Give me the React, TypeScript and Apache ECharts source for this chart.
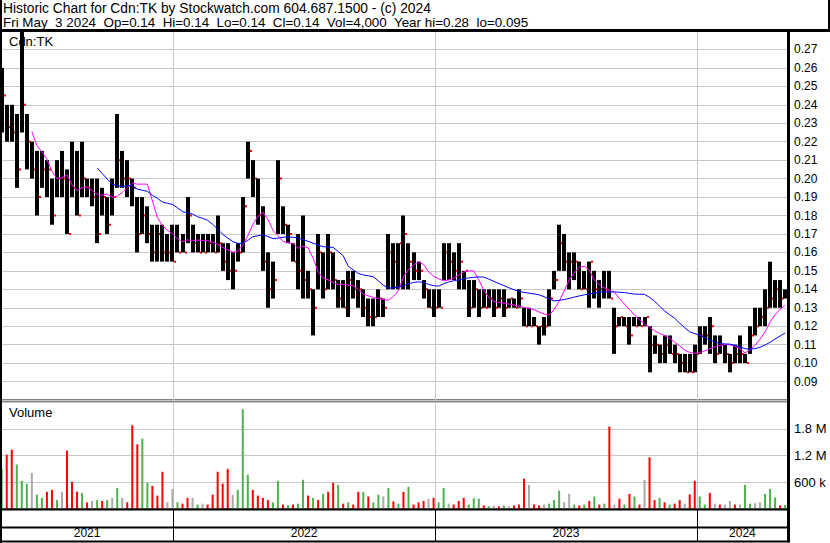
import React, { useEffect, useRef } from 'react';
import * as echarts from 'echarts';

// ---- header / labels ----
const titleLine = 'Historic Chart for Cdn:TK by Stockwatch.com 604.687.1500 - (c) 2024';
const infoLine = 'Fri May\u00a0 3 2024\u00a0 Op=0.14\u00a0 Hi=0.14\u00a0 Lo=0.14\u00a0 Cl=0.14\u00a0 Vol=4,000\u00a0 Year hi=0.28\u00a0 lo=0.095';
const symbolLabel = 'Cdn:TK';
const volumeLabel = 'Volume';

// ---- x axis (weekly points, Friday closes) ----
const DAY = 86400000;
const firstWeek = Date.UTC(2021, 4, 7);
const axisStart = Date.UTC(2021, 4, 6);
const axisEnd = Date.UTC(2024, 4, 7);
const yearStarts = [Date.UTC(2022, 0, 1), Date.UTC(2023, 0, 1), Date.UTC(2024, 0, 1)];
const yearLabels = ['2021', '2022', '2023', '2024'];

// ---- price axis ----
const priceMin = 0.08;
const priceMax = 0.28;
const priceStep = 0.01;

// ---- volume axis ----
const volumeMax = 2400000;
const volumeStep = 600000;
const volumeTickValues = [600000, 1200000, 1800000];
const volumeTickLabels = ['600 k', '1.2 M', '1.8 M'];

// ---- weekly price data ----
const highs = [
  0.26, 0.24, 0.24, 0.235, 0.28, 0.235, 0.22, 0.215, 0.215, 0.21,
  0.2, 0.21, 0.215, 0.205, 0.22, 0.215, 0.22, 0.2, 0.2, 0.2,
  0.195, 0.19, 0.2, 0.235, 0.215, 0.21, 0.2, 0.19, 0.19, 0.185,
  0.175, 0.175, 0.175, 0.17, 0.175, 0.175, 0.17, 0.19, 0.175, 0.17,
  0.17, 0.17, 0.17, 0.18, 0.165, 0.165, 0.16, 0.165, 0.19, 0.22,
  0.21, 0.2, 0.185, 0.16, 0.155, 0.21, 0.185, 0.175, 0.165, 0.17,
  0.18, 0.15, 0.14, 0.17, 0.16, 0.17, 0.16, 0.145, 0.145, 0.15,
  0.15, 0.145, 0.14, 0.135, 0.135, 0.14, 0.135, 0.17, 0.165, 0.165,
  0.18, 0.165, 0.16, 0.155, 0.145, 0.14, 0.14, 0.14, 0.165, 0.165,
  0.16, 0.165, 0.15, 0.145, 0.145, 0.14, 0.14, 0.14, 0.14, 0.14,
  0.14, 0.135, 0.135, 0.14, 0.13, 0.13, 0.125, 0.12, 0.125, 0.14,
  0.15, 0.175, 0.17, 0.16, 0.16, 0.155, 0.15, 0.155, 0.15, 0.145,
  0.15, 0.15, 0.13, 0.125, 0.125, 0.125, 0.125, 0.125, 0.125, 0.12,
  0.115, 0.11, 0.115, 0.115, 0.11, 0.105, 0.105, 0.105, 0.11, 0.12,
  0.12, 0.125, 0.115, 0.115, 0.11, 0.105, 0.11, 0.115, 0.105, 0.12,
  0.13, 0.13, 0.14, 0.155, 0.145, 0.145, 0.14,
];
const lows = [
  0.225, 0.22, 0.22, 0.195, 0.225, 0.205, 0.2, 0.18, 0.195, 0.19,
  0.175, 0.19, 0.19, 0.17, 0.19, 0.18, 0.19, 0.19, 0.185, 0.165,
  0.18, 0.17, 0.18, 0.195, 0.195, 0.19, 0.185, 0.16, 0.17, 0.165,
  0.155, 0.155, 0.155, 0.155, 0.155, 0.16, 0.16, 0.165, 0.16, 0.16,
  0.16, 0.16, 0.16, 0.16, 0.15, 0.145, 0.14, 0.155, 0.16, 0.2,
  0.19, 0.175, 0.15, 0.13, 0.135, 0.17, 0.17, 0.165, 0.155, 0.14,
  0.135, 0.135, 0.115, 0.14, 0.135, 0.14, 0.14, 0.13, 0.13, 0.125,
  0.135, 0.13, 0.125, 0.12, 0.12, 0.125, 0.125, 0.14, 0.14, 0.14,
  0.14, 0.14, 0.145, 0.145, 0.135, 0.13, 0.125, 0.13, 0.145, 0.145,
  0.145, 0.14, 0.14, 0.125, 0.13, 0.125, 0.13, 0.13, 0.125, 0.13,
  0.125, 0.13, 0.13, 0.13, 0.12, 0.12, 0.12, 0.11, 0.115, 0.12,
  0.14, 0.15, 0.15, 0.14, 0.145, 0.14, 0.14, 0.13, 0.135, 0.13,
  0.135, 0.135, 0.105, 0.12, 0.12, 0.11, 0.12, 0.12, 0.12, 0.095,
  0.105, 0.1, 0.1, 0.105, 0.1, 0.095, 0.095, 0.095, 0.095, 0.105,
  0.11, 0.105, 0.1, 0.105, 0.1, 0.095, 0.1, 0.1, 0.1, 0.105,
  0.115, 0.12, 0.12, 0.13, 0.13, 0.13, 0.135,
];
const closes = [
  0.245, 0.228, 0.225, 0.205, 0.24, 0.22, 0.205, 0.19, 0.205, 0.205,
  0.18, 0.2, 0.2, 0.17, 0.195, 0.18, 0.2, 0.195, 0.19, 0.17,
  0.19, 0.175, 0.19, 0.21, 0.2, 0.2, 0.195, 0.17, 0.18, 0.17,
  0.16, 0.17, 0.16, 0.16, 0.155, 0.16, 0.16, 0.18, 0.165, 0.16,
  0.16, 0.165, 0.16, 0.165, 0.155, 0.15, 0.15, 0.16, 0.185, 0.215,
  0.2, 0.18, 0.155, 0.14, 0.145, 0.2, 0.175, 0.17, 0.155, 0.15,
  0.145, 0.14, 0.13, 0.16, 0.14, 0.16, 0.145, 0.135, 0.13, 0.145,
  0.14, 0.14, 0.13, 0.125, 0.125, 0.135, 0.13, 0.16, 0.155, 0.165,
  0.17, 0.155, 0.15, 0.15, 0.14, 0.13, 0.13, 0.13, 0.16, 0.155,
  0.15, 0.155, 0.15, 0.13, 0.14, 0.13, 0.13, 0.135, 0.13, 0.135,
  0.13, 0.135, 0.13, 0.135, 0.12, 0.12, 0.12, 0.12, 0.12, 0.135,
  0.145, 0.165, 0.155, 0.155, 0.155, 0.14, 0.14, 0.155, 0.14, 0.14,
  0.14, 0.135, 0.12, 0.125, 0.12, 0.115, 0.12, 0.12, 0.125, 0.11,
  0.11, 0.105, 0.11, 0.105, 0.105, 0.1, 0.095, 0.095, 0.105, 0.115,
  0.115, 0.12, 0.105, 0.11, 0.105, 0.1, 0.105, 0.105, 0.1, 0.115,
  0.12, 0.125, 0.13, 0.135, 0.14, 0.135, 0.14,
];

// ---- moving averages ----
const maShort = [
  null, null, null, null, null, null, 0.2255, 0.218, 0.2145, 0.2105,
  0.204, 0.2, 0.2005, 0.202, 0.1965, 0.1935, 0.195, 0.1955, 0.1935, 0.1915,
  0.191, 0.1915, 0.19, 0.1905, 0.1925, 0.195, 0.1975, 0.197, 0.197, 0.197,
  0.188, 0.179, 0.1745, 0.172, 0.17, 0.1675, 0.1658, 0.1668, 0.1665, 0.1667,
  0.1665, 0.1663, 0.1655, 0.1643, 0.1627, 0.1615, 0.1602, 0.1605, 0.164, 0.169,
  0.175, 0.1795, 0.1817, 0.178, 0.172, 0.1691, 0.166, 0.1652, 0.1649, 0.1622,
  0.1634, 0.1625, 0.157, 0.1495, 0.146, 0.1452, 0.1436, 0.1427, 0.1426, 0.1424,
  0.142, 0.14, 0.1374, 0.1365, 0.1356, 0.135, 0.1345, 0.134, 0.1362, 0.1392,
  0.1468, 0.1508, 0.1532, 0.155, 0.1535, 0.1495, 0.1471, 0.1457, 0.1446, 0.1451,
  0.146, 0.1477, 0.1494, 0.15, 0.15, 0.145, 0.1395, 0.1355, 0.1335, 0.1328,
  0.1325, 0.132, 0.1315, 0.1308, 0.1302, 0.1297, 0.129, 0.1277, 0.1266, 0.126,
  0.129, 0.1335, 0.139, 0.145, 0.149, 0.152, 0.1525, 0.1505, 0.1449, 0.1425,
  0.1407, 0.1395, 0.1385, 0.135, 0.132, 0.129, 0.126, 0.1236, 0.1212, 0.1195,
  0.1175, 0.116, 0.115, 0.1135, 0.1114, 0.1093, 0.107, 0.1058, 0.1053, 0.1057,
  0.1066, 0.1077, 0.1088, 0.1095, 0.1101, 0.1099, 0.1091, 0.1078, 0.1056, 0.107,
  0.1096, 0.113, 0.1168, 0.1223, 0.1262, 0.1292, 0.1313,
];
const maLong = [
  null, null, null, null, null, null, null, null, null, null,
  null, null, null, null, null, null, null, null, null, 0.2058,
  0.2028, 0.1998, 0.197, 0.1962, 0.1957, 0.1962, 0.1962, 0.1943, 0.1937, 0.1931,
  0.191, 0.1893, 0.1873, 0.1866, 0.186, 0.1842, 0.1821, 0.1814, 0.1808, 0.1793,
  0.1785, 0.1774, 0.1752, 0.1726, 0.1698, 0.1678, 0.1659, 0.1649, 0.1649, 0.1665,
  0.1685, 0.169, 0.1696, 0.1686, 0.1675, 0.1677, 0.1682, 0.1684, 0.1682, 0.1678,
  0.167, 0.166, 0.165, 0.164, 0.1631, 0.1629, 0.1627, 0.1605, 0.1582, 0.1525,
  0.1505, 0.1486, 0.1478, 0.1473, 0.1468, 0.1445, 0.1422, 0.1407, 0.1408, 0.1412,
  0.1418, 0.143, 0.1437, 0.144, 0.1438, 0.1426, 0.142, 0.1417, 0.143, 0.144,
  0.1446, 0.1451, 0.1457, 0.1462, 0.1465, 0.1467, 0.1466, 0.1455, 0.1443, 0.1432,
  0.142, 0.1408, 0.1398, 0.1389, 0.1383, 0.1379, 0.1375, 0.137, 0.136, 0.1348,
  0.1337, 0.134, 0.1345, 0.135, 0.1358, 0.1364, 0.137, 0.1374, 0.138, 0.1386,
  0.1386, 0.1386, 0.1386, 0.1384, 0.1382, 0.1378, 0.1374, 0.1373, 0.1373, 0.1356,
  0.1336, 0.1308, 0.1283, 0.1262, 0.1243, 0.1216, 0.1192, 0.1169, 0.116, 0.1151,
  0.1138, 0.1124, 0.1115, 0.1106, 0.1104, 0.1103, 0.1096, 0.1088, 0.1078, 0.1076,
  0.1078, 0.1086, 0.1098, 0.1113, 0.113, 0.1147, 0.1163,
];

// ---- weekly volume (thousands) and direction (1 up, -1 down, 0 unchanged) ----
const volumesK = [
  900, 1220, 1330, 1000, 630, 565, 810, 320, 250, 385,
  430, 200, 385, 1310, 610, 390, 360, 150, 180, 200,
  180, 200, 250, 470, 250, 150, 1880, 1450, 1580, 590,
  520, 300, 836, 150, 450, 150, 120, 250, 250, 100,
  120, 100, 320, 836, 570, 900, 320, 430, 2240, 770,
  430, 300, 250, 200, 150, 633, 100, 80, 100, 120,
  655, 300, 250, 200, 340, 385, 590, 540, 120, 150,
  100, 385, 385, 280, 150, 320, 280, 470, 170, 120,
  385, 500, 100, 150, 180, 230, 250, 150, 470, 120,
  100, 180, 250, 100, 240, 230, 80, 60, 80, 60,
  80, 60, 80, 100, 680, 540, 100, 80, 100, 120,
  200, 410, 150, 340, 100, 80, 100, 180, 280, 100,
  120, 1850, 100, 230, 100, 340, 280, 100, 655, 1160,
  200, 250, 150, 100, 120, 200, 120, 330, 633, 280,
  100, 360, 120, 100, 100, 180, 100, 100, 540, 120,
  130, 150, 340, 450, 260, 80, 90,
];
const volumeDir = [
  1, -1, -1, 1, 1, 1, 0, 1, 1, -1,
  -1, 1, 0, -1, -1, -1, 1, -1, 0, 1,
  -1, 1, 0, 1, 0, -1, -1, -1, 1, 1,
  -1, -1, -1, 0, 0, 1, -1, -1, 0, 1,
  0, -1, -1, -1, -1, -1, 0, 1, 1, 1,
  -1, -1, -1, -1, 1, 1, -1, 1, -1, 1,
  1, -1, 1, -1, 1, -1, -1, 1, -1, 1,
  -1, -1, 1, -1, 1, 1, 0, 1, -1, 1,
  -1, 1, -1, -1, -1, 0, -1, 1, 1, 0,
  -1, -1, -1, 1, 1, 1, -1, 1, 0, -1,
  1, 0, -1, -1, -1, 0, -1, -1, 0, 1,
  1, 1, 0, 0, 1, -1, 1, -1, 1, -1,
  1, -1, 0, -1, 1, -1, 1, -1, 0, -1,
  -1, 1, -1, 1, -1, -1, 0, -1, -1, 1,
  1, -1, 0, -1, 0, 0, -1, 0, 1, 1,
  0, 0, 1, 1, 1, -1, 1,
];

const FONT = '"Liberation Sans", Arial, sans-serif';
const GRID_COLOR = '#c8c8c8';
const UP = '#4db24d';
const DOWN = '#ff0000';
const FLAT = '#a9a9a9';

function buildOption() {
  const n = Math.min(highs.length, lows.length, closes.length);
  const weeks: number[] = [];
  for (let i = 0; i < n; i++) weeks.push(firstWeek + i * 7 * DAY);

  const bounds = [axisStart, ...yearStarts, axisEnd];
  const yearMids = bounds.slice(0, -1).map((b, i) => (b + bounds[i + 1]) / 2);

  const ohlc = weeks.map((t, i) => [t, highs[i], lows[i], closes[i]]);
  const shortLine = weeks.map((t, i) => [t, maShort[i] ?? null]);
  const longLine = weeks.map((t, i) => [t, maLong[i] ?? null]);
  const vol = weeks.map((t, i) => ({
    value: [t, (volumesK[i] ?? 0) * 1000],
    itemStyle: { color: volumeDir[i] > 0 ? UP : volumeDir[i] < 0 ? DOWN : FLAT },
  }));

  const xBase = (gridIndex: number, splitColor: string) => ({
    type: 'value',
    gridIndex,
    min: axisStart,
    max: axisEnd,
    axisLine: { show: false },
    axisTick: { show: false, customValues: yearStarts },
    axisLabel: { show: false },
    splitLine: { show: true, lineStyle: { color: splitColor, width: 1 } },
  });

  const line = (x1: number, y1: number, x2: number, y2: number, w: number) => ({
    type: 'line',
    silent: true,
    z: 100,
    shape: { x1, y1, x2, y2 },
    style: { stroke: '#000', lineWidth: w },
  });
  const text = (t: string, x: number, y: number, size: number) => ({
    type: 'text',
    silent: true,
    z: 100,
    x,
    y,
    style: {
      text: t,
      fill: '#000',
      font: `${size}px ${FONT}`,
      textVerticalAlign: 'top',
      verticalAlign: 'top',
    },
  });

  return {
    animation: false,
    backgroundColor: '#fff',
    useUTC: true,
    grid: [
      { left: 1, top: 31, width: 787, height: 369, show: true, borderColor: '#000', borderWidth: 1 },
      { left: 1, top: 402, width: 787, height: 107, show: true, borderColor: '#000', borderWidth: 1 },
      { left: 1, top: 510, width: 787, height: 31, show: false },
    ],
    xAxis: [
      xBase(0, GRID_COLOR),
      xBase(1, GRID_COLOR),
      {
        ...xBase(2, '#000'),
        position: 'bottom',
        axisLabel: {
          show: true,
          inside: true,
          margin: 2,
          customValues: yearMids,
          fontSize: 12,
          fontFamily: FONT,
          color: '#000',
          formatter: (v: number) => {
            let idx = 0;
            yearStarts.forEach((y) => { if (v >= y) idx++; });
            return yearLabels[idx];
          },
        },
      },
    ],
    yAxis: [
      {
        type: 'value',
        gridIndex: 0,
        position: 'right',
        min: priceMin,
        max: priceMax,
        interval: priceStep,
        axisLine: { show: false },
        axisTick: { show: false },
        splitLine: { show: true, lineStyle: { color: GRID_COLOR, width: 1 } },
        axisLabel: {
          margin: 6,
          fontSize: 12,
          fontFamily: FONT,
          color: '#000',
          formatter: (v: number) => (v < priceMin + priceStep / 2 || v > priceMax - priceStep / 2 ? '' : v.toFixed(2)),
        },
      },
      {
        type: 'value',
        gridIndex: 1,
        position: 'right',
        min: 0,
        max: volumeMax,
        interval: volumeStep,
        axisLine: { show: false },
        axisTick: { show: false },
        splitLine: { show: true, lineStyle: { color: GRID_COLOR, width: 1 } },
        axisLabel: {
          margin: 6,
          fontSize: 13,
          fontFamily: FONT,
          color: '#000',
          formatter: (v: number) => {
            const k = volumeTickValues.findIndex((t) => Math.abs(t - v) < 1);
            return k >= 0 ? volumeTickLabels[k] : '';
          },
        },
      },
      { type: 'value', gridIndex: 2, show: false, min: 0, max: 1, splitLine: { show: false } },
    ],
    series: [
      {
        type: 'custom',
        name: 'price',
        xAxisIndex: 0,
        yAxisIndex: 0,
        data: ohlc,
        encode: { x: 0, y: [1, 2, 3] },
        clip: true,
        renderItem: (params: any, api: any) => {
          const t = api.value(0);
          const hi = api.coord([t, api.value(1)]);
          const lo = api.coord([t, api.value(2)]);
          const cl = api.coord([t, api.value(3)]);
          const cx = Math.round(hi[0]);
          return {
            type: 'group',
            children: [
              {
                type: 'rect',
                shape: { x: cx - 2, y: hi[1], width: 4, height: Math.max(1, lo[1] - hi[1]) },
                style: { fill: '#000' },
              },
              {
                type: 'rect',
                shape: { x: cx + 2, y: cl[1] - 1, width: 2, height: 2 },
                style: { fill: '#ff0000' },
              },
            ],
          };
        },
      },
      {
        type: 'line',
        name: 'short MA',
        xAxisIndex: 0,
        yAxisIndex: 0,
        data: shortLine,
        showSymbol: false,
        connectNulls: false,
        lineStyle: { color: '#ff00ff', width: 1 },
        itemStyle: { color: '#ff00ff' },
      },
      {
        type: 'line',
        name: 'long MA',
        xAxisIndex: 0,
        yAxisIndex: 0,
        data: longLine,
        showSymbol: false,
        connectNulls: false,
        lineStyle: { color: '#0000ff', width: 1 },
        itemStyle: { color: '#0000ff' },
      },
      {
        type: 'bar',
        name: 'volume',
        xAxisIndex: 1,
        yAxisIndex: 1,
        data: vol,
        barWidth: 2,
      },
    ],
    graphic: [
      text(titleLine, 3, 1, 13.8),
      text(infoLine, 3, 16, 13.4),
      text(symbolLabel, 9, 35, 13),
      text(volumeLabel, 9, 406, 13),
      line(1, 0, 1, 543, 2),
      line(829, 0, 829, 31, 2),
      line(0, 30.5, 830, 30.5, 3),
      line(788.5, 30, 788.5, 542.5, 3),
      line(0, 509.5, 789, 509.5, 2),
      line(0, 527.5, 789, 527.5, 2),
      line(0, 541.5, 789, 541.5, 2),
    ],
  };
}

export default function App() {
  const ref = useRef<HTMLDivElement>(null);
  useEffect(() => {
    if (!ref.current) return;
    const chart = echarts.init(ref.current, undefined, { renderer: 'svg' });
    chart.setOption(buildOption() as any);
    return () => chart.dispose();
  }, []);
  return (
    <div
      ref={ref}
      style={{ position: 'absolute', left: 0, top: 0, width: 830, height: 543, background: '#fff' }}
    />
  );
}
